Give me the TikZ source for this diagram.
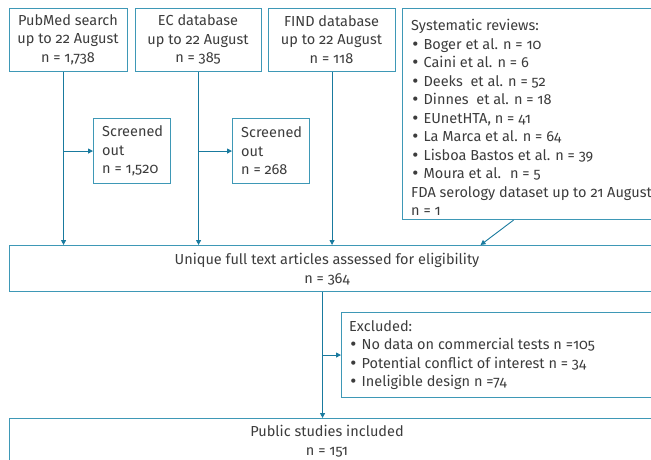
\documentclass[tikz,border=0pt]{standalone}
\usepackage{fontspec}
\setmainfont{Fira Sans}[Numbers=OldStyle]
\newfontfamily\bulfont{DejaVu Sans}
\usetikzlibrary{arrows.meta}
\definecolor{boxc}{RGB}{62,152,182}
\definecolor{linec}{RGB}{25,122,158}
\definecolor{txt}{RGB}{60,60,60}
\newcommand\mybul{{\bulfont •}}
\begin{document}
\begin{tikzpicture}[x=1pt,y=-1pt,
  box/.style={draw=boxc, line width=1.1pt, anchor=north west, inner sep=0pt},
  lbl/.style={text=txt, font=\fontsize{14.5}{18.5}\selectfont, inner sep=0pt},
  arr/.style={draw=linec, line width=0.9pt, -{Triangle[length=5pt,width=5pt]}}]
\clip (0,0) rectangle (651,460);
% boxes
\node[box, minimum width=118pt, minimum height=63pt] (pub) at (9,8) {};
\node[box, minimum width=126pt, minimum height=63pt] (ec) at (135,8) {};
\node[box, minimum width=127pt, minimum height=63pt] (find) at (268,8) {};
\node[box, minimum width=258pt, minimum height=211pt] (sys) at (402,8) {};
\node[box, minimum width=77pt, minimum height=65pt] (so1) at (93,118) {};
\node[box, minimum width=77pt, minimum height=65pt] (so2) at (232,118) {};
\node[box, minimum width=651pt, minimum height=46pt] (uniq) at (9,245) {};
\node[box, minimum width=319pt, minimum height=85pt] (excl) at (341,312) {};
\node[box, minimum width=651pt, minimum height=52pt] (pubs) at (9,418) {};
% texts
\node[lbl, align=center] (pubt) at (68,39.5) {PubMed search\\up to 22 August\\n = 1,738};
\node[lbl, align=center] (ect) at (198,39.5) {EC database\\up to 22 August\\n = 385};
\node[lbl, align=center] (findt) at (331.5,39.5) {FIND database\\up to 22 August\\n = 118};
\node[lbl, align=left, anchor=west] (syst) at (411,117.5) {Systematic reviews:\\
\mybul{} Boger et al. n = 10\\
\mybul{} Caini et al. n = 6\\
\mybul{} Deeks~ et al. n = 52\\
\mybul{} Dinnes~ et al. n = 18\\
\mybul{} EUnetHTA, n = 41\\
\mybul{} La Marca et al. n = 64\\
\mybul{} Lisboa Bastos et al. n = 39\\
\mybul{} Moura et al.~ n = 5\\
FDA serology dataset up to 21 August\\
n = 1};
\node[lbl, align=left, anchor=west] (so1t) at (102,151) {Screened\\out\\n = 1,520};
\node[lbl, align=left, anchor=west] (so2t) at (241,151) {Screened\\out\\n = 268};
\node[lbl, align=center] (uniqt) at (327,269) {Unique full text articles assessed for eligibility\\n = 364};
\node[lbl, align=left, anchor=west] (exclt) at (349,355) {Excluded:\\
\mybul{} No data on commercial tests n =105\\
\mybul{} Potential conflict of interest n = 34\\
\mybul{} Ineligible design n =74};
\node[lbl, align=center] (pubst) at (327,441) {Public studies included\\n = 151};
% connectors
\draw[arr] ([xshift=-5pt]pub.south) -- ([xshift=-5pt]pub.south |- uniq.north);
\draw[arr] ([xshift=-5pt]pub.south |- so1.west) -- (so1.west);
\draw[arr] (ec.south) -- (ec.south |- uniq.north);
\draw[arr] (ec.south |- so2.west) -- (so2.west);
\draw[arr] (find.south) -- (find.south |- uniq.north);
\draw[arr] ([xshift=-18pt]sys.south) -- ([xshift=145.5pt]uniq.north);
\draw[arr] ([xshift=-12.5pt]uniq.south) -- ([xshift=-12.5pt]uniq.south |- pubs.north);
\draw[arr] ([xshift=-12.5pt]uniq.south |- excl.west) -- (excl.west);
\end{tikzpicture}
\end{document}
